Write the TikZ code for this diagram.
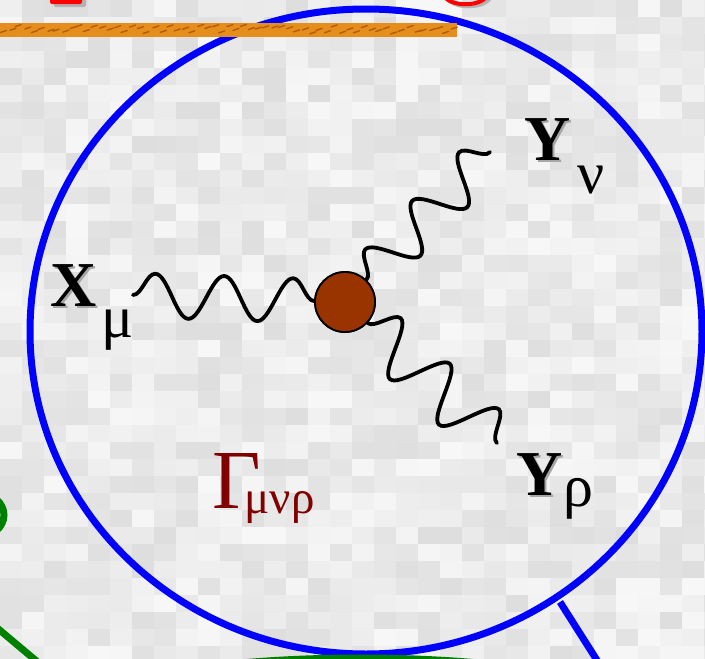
\documentclass[tikz,border=0pt]{standalone}
\usepackage{fontspec}
\setmainfont{Liberation Serif}
\usetikzlibrary{decorations.pathmorphing}
\definecolor{dotbrown}{RGB}{153,51,0}
\definecolor{gamred}{RGB}{128,0,0}
\definecolor{barorange}{RGB}{230,142,28}
\definecolor{bardark}{RGB}{176,92,8}
\definecolor{ringblue}{RGB}{0,0,255}
\definecolor{leafgreen}{RGB}{0,128,0}
\newcommand\shadowed[1]{\makebox[0pt][l]{\kern2.5pt\raisebox{-2.5pt}{\textcolor{black!35}{#1}}}#1}
\begin{document}
\begin{tikzpicture}[x=1pt,y=-1pt,
  photon/.style 2 args={line width=3.8pt, line cap=round, decorate,
    decoration={snake, segment length=#1, amplitude=#2}},
  lbl/.style={inner sep=0pt, anchor=base west, font=\fontsize{64}{64}\selectfont},
  ring/.style={draw=ringblue, line width=7pt},
  leaf/.style={draw=leafgreen, line width=7pt}
]
\useasboundingbox (0,0) rectangle (705,659);
\clip (0,0) rectangle (705,659);
% textured light-grey background
\fill[black!9] (0,0) rectangle (705,659);
\pgfmathsetseed{11}
\foreach \i in {0,...,32}{
  \foreach \j in {0,...,38}{
    \pgfmathsetmacro\g{87+10*rnd}
    \fill[white!\g!black] (\i*22,\j*17) rectangle ++(22,17);
  }
}
% fragments at the top edge
\fill[black!30, rounded corners=2pt] (54,-4) rectangle (86,7);
\fill[red, rounded corners=2pt] (50,-6) rectangle (82,4);
\draw[black!30, line width=4pt] (447,-2) .. controls (454,9) and (483,9) .. (490,-2);
\draw[red, line width=4pt] (444,-4) .. controls (451,7) and (480,7) .. (487,-4);
% blue ring and its stem
\draw[ring] (366,331.5) ellipse [x radius=336, y radius=322.5];
\coordinate (stemtop) at (560,602);
\coordinate (stembot) at (600,665);
\draw[ring] (stemtop) -- (stembot);
% orange bar
\fill[barorange] (0,22.5) rectangle (457,36.5);
\foreach \k in {0,...,60}{
  \pgfmathsetmacro\bx{\k*7.5+3*rnd}
  \pgfmathsetmacro\by{26+8*rnd}
  \draw[bardark, line width=1.4pt, line cap=round] (\bx,\by) -- ++(6,-2);
}
% green fragments
\draw[leaf] (-22,515) ellipse [x radius=26, y radius=22];
\draw[leaf] (-4,627) -- (40,664);
\draw[leaf] (360,719) ellipse [x radius=300, y radius=61];
% vertex and photons
\node[circle, draw=black, line width=1.8pt, fill=dotbrown, minimum size=60pt, inner sep=0pt] (dot) at (345,302) {};
\coordinate (xs) at (133,295);
\coordinate (ynuend) at (490,152);
\coordinate (yrhoend) at (497,443);
\draw[photon={69pt}{22pt}] (xs) -- (dot);
\draw[photon={67.5pt}{22pt}] (dot) -- (ynuend);
\draw[photon={67pt}{26pt}] (dot) -- (yrhoend);
\node[circle, draw=black, line width=1.8pt, fill=dotbrown, minimum size=60pt, inner sep=0pt] at (dot) {};
% labels
\node[lbl] (xmu) at (50,306) {\bfseries\shadowed{X}\hspace{5pt}\raisebox{-31pt}{\mdseries\fontsize{60}{60}\selectfont μ}};
\node[lbl] (ynu) at (524,160) {\bfseries\shadowed{Y}\hspace{7pt}\raisebox{-33pt}{\mdseries\fontsize{60}{60}\selectfont ν}};
\node[lbl] (yrho) at (516,495) {\bfseries\shadowed{Y}\hspace{1pt}\raisebox{-11pt}{\mdseries\fontsize{60}{60}\selectfont ρ}};
\node[inner sep=0pt, anchor=base west, text=gamred] (gam) at (212,508) {\fontsize{84}{84}\selectfont Γ\hspace{-16pt}\raisebox{-5pt}{\fontsize{47}{47}\selectfont μνρ}};
\end{tikzpicture}
\end{document}
